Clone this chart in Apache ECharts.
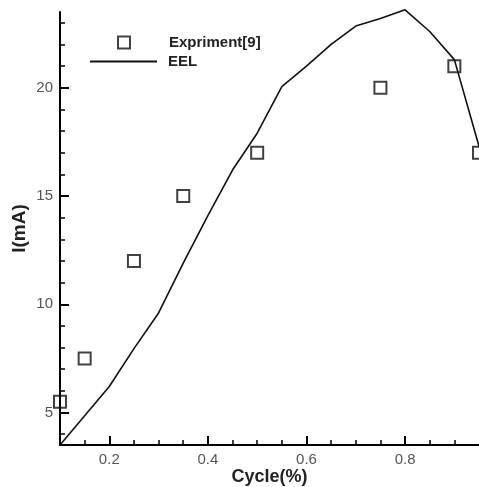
<!DOCTYPE html>
<html>
<head>
<meta charset="utf-8">
<script src="https://cdn.jsdelivr.net/npm/echarts@6/dist/echarts.min.js"></script>
<style>html,body{margin:0;padding:0;background:#fff}#c{width:479px;height:487px}</style>
</head>
<body>
<div id="c"></div>
<script>
// EEL model curve
const eelCycle = [0.1, 0.15, 0.2, 0.25, 0.3, 0.35, 0.4, 0.45, 0.5, 0.55, 0.6, 0.65, 0.7, 0.75, 0.8, 0.85, 0.9, 0.95];
const eelCurrent = [3.5, 4.85, 6.2, 7.95, 9.6, 11.9, 14.1, 16.2, 17.9, 20.05, 21.0, 22.0, 22.85, 23.2, 23.6, 22.6, 21.3, 17.3];
// Experiment[9] points
const expCycle = [0.1, 0.15, 0.25, 0.35, 0.5, 0.75, 0.9, 0.95];
const expCurrent = [5.5, 7.5, 12, 15, 17, 20, 21, 17];
// Ticks
const xMajorTicks = [0.2, 0.4, 0.6, 0.8];
const xMinorTicks = [0.15, 0.25, 0.3, 0.35, 0.45, 0.5, 0.55, 0.65, 0.7, 0.75, 0.85, 0.9];
const yMajorTicks = [5, 10, 15, 20];
const yMinorTicks = [4, 6, 7, 8, 9, 11, 12, 13, 14, 16, 17, 18, 19, 21, 22, 23];

const chart = echarts.init(document.getElementById('c'), null, {renderer: 'canvas'});
const font = '"Liberation Sans", Arial, sans-serif';
const xMin = 0.1, xMax = 0.95, yMin = 3.5, yMax = 23.5;
const legendText = {fontFamily: font, fontWeight: 'bold', fontSize: 15, color: '#222'};

chart.setOption({
  animation: false,
  backgroundColor: '#fff',
  grid: {left: 60, right: 0, top: 12, bottom: 42, containLabel: false, outerBoundsMode: 'none'},
  legend: [{
    orient: 'vertical',
    left: 117, top: 35,
    padding: 0,
    itemWidth: 12, itemHeight: 12,
    data: ['Expriment[9]'],
    textStyle: Object.assign({padding: [0, 0, 0, 34]}, legendText)
  }, {
    orient: 'vertical',
    left: 90, top: 54,
    padding: 0,
    itemWidth: 67, itemHeight: 2,
    data: [{name: 'EEL', icon: 'rect'}],
    textStyle: Object.assign({padding: [0, 0, 0, 6]}, legendText)
  }],
  xAxis: [{
    type: 'value', min: xMin, max: xMax, position: 'bottom',
    name: 'Cycle(%)', nameLocation: 'middle', nameGap: 23, nameMoveOverlap: false,
    nameTextStyle: {fontFamily: font, fontWeight: 'bold', fontSize: 18, color: '#222'},
    axisLine: {show: true, lineStyle: {color: '#000', width: 2}},
    axisTick: {show: true, inside: true, length: 9, customValues: xMajorTicks, lineStyle: {color: '#000', width: 2}},
    axisLabel: {show: true, customValues: xMajorTicks, margin: 7, fontFamily: font, fontSize: 15, color: '#555',
      formatter: v => v.toFixed(1)},
    splitLine: {show: false}
  }, {
    type: 'value', min: xMin, max: xMax, position: 'bottom',
    axisLine: {show: false},
    axisTick: {show: true, inside: true, length: 5, customValues: xMinorTicks, lineStyle: {color: '#000', width: 1.5}},
    axisLabel: {show: false},
    splitLine: {show: false}
  }],
  yAxis: [{
    type: 'value', min: yMin, max: yMax, position: 'left',
    name: 'I(mA)', nameLocation: 'middle', nameGap: 31, nameRotate: 90, nameMoveOverlap: false,
    nameTextStyle: {fontFamily: font, fontWeight: 'bold', fontSize: 19, color: '#222'},
    axisLine: {show: true, lineStyle: {color: '#000', width: 2}},
    axisTick: {show: true, inside: true, length: 9, customValues: yMajorTicks, lineStyle: {color: '#000', width: 2}},
    axisLabel: {show: true, customValues: yMajorTicks, margin: 7, fontFamily: font, fontSize: 15, color: '#555'},
    splitLine: {show: false}
  }, {
    type: 'value', min: yMin, max: yMax, position: 'left',
    axisLine: {show: false},
    axisTick: {show: true, inside: true, length: 5, customValues: yMinorTicks, lineStyle: {color: '#000', width: 1.5}},
    axisLabel: {show: false},
    splitLine: {show: false}
  }],
  series: [{
    name: 'EEL',
    type: 'line',
    xAxisIndex: 0, yAxisIndex: 0,
    data: eelCycle.map((x, i) => [x, eelCurrent[i]]),
    symbol: 'none',
    clip: false,
    lineStyle: {color: '#111', width: 1.6},
    itemStyle: {color: '#111'},
    z: 2
  }, {
    name: 'Expriment[9]',
    type: 'scatter',
    xAxisIndex: 0, yAxisIndex: 0,
    data: expCycle.map((x, i) => [x, expCurrent[i]]),
    symbol: 'rect',
    symbolSize: 12,
    clip: false,
    itemStyle: {color: 'rgba(255,255,255,0)', borderColor: '#111', borderWidth: 2},
    z: 3
  }]
});
</script>
</body>
</html>
